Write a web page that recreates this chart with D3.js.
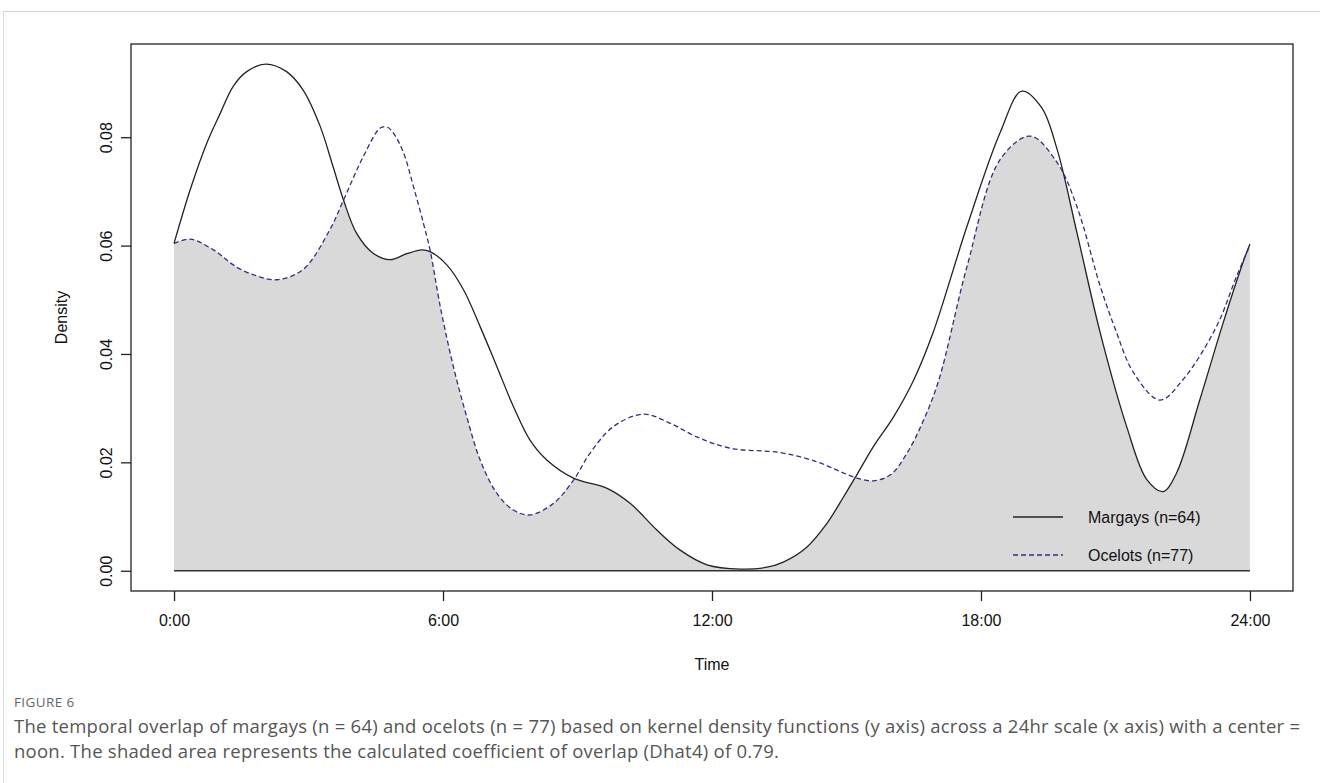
<!DOCTYPE html>
<html>
<head>
<meta charset="utf-8">
<script src="https://cdn.jsdelivr.net/npm/d3@7"></script>
<style>
  body { margin: 0; background: #fff; }
  svg { display: block; }
</style>
</head>
<body>
<svg id="chart" width="1320" height="783"></svg>
<script>
// kernel density readings, hour of day -> density
const margayHours = [0, 0.36, 0.73, 1.03, 1.32, 1.62, 2.05, 2.51, 2.88, 3.26, 3.55, 3.78, 4.07, 4.44, 4.82, 5.19, 5.53, 5.71, 6.09, 6.46, 6.83, 7.2, 7.57, 7.94, 8.32, 8.91, 9.66, 10.18, 10.77, 11.29, 11.89, 12.63, 13.2, 13.59, 14.12, 14.56, 14.94, 15.23, 15.6, 16.05, 16.5, 16.93, 17.69, 18.43, 18.91, 19.35, 19.7, 20.14, 20.66, 21.25, 21.7, 22.06, 22.36, 22.88, 23.4, 23.84, 24];
const margay = [0.0604, 0.0703, 0.0789, 0.0844, 0.0894, 0.0921, 0.0935, 0.0921, 0.0887, 0.082, 0.0745, 0.0684, 0.0623, 0.0586, 0.0574, 0.0585, 0.0592, 0.0589, 0.0564, 0.0518, 0.045, 0.0377, 0.0303, 0.0241, 0.0204, 0.0171, 0.0152, 0.0124, 0.0075, 0.0038, 0.0011, 0.0003, 0.0006, 0.0016, 0.0044, 0.0087, 0.0137, 0.0177, 0.0229, 0.0284, 0.0352, 0.0439, 0.0636, 0.0809, 0.0885, 0.0855, 0.0777, 0.0624, 0.0439, 0.0266, 0.0168, 0.0146, 0.018, 0.0315, 0.0457, 0.0568, 0.0603];

const ocelotHours = [0, 0.36, 0.88, 1.4, 1.85, 2.29, 2.88, 3.48, 3.78, 4.22, 4.6, 4.75, 4.89, 5.12, 5.34, 5.56, 5.71, 5.94, 6.23, 6.53, 6.83, 7.2, 7.57, 7.94, 8.46, 8.91, 9.28, 9.8, 10.47, 11.07, 11.66, 12.41, 13.52, 14.34, 14.86, 15.23, 15.6, 15.98, 16.35, 16.72, 17.06, 17.69, 18.43, 19.1, 19.7, 20.14, 20.66, 21.0, 21.4, 21.99, 22.5, 23.25, 23.7, 24];
const ocelot = [0.0604, 0.0612, 0.0592, 0.056, 0.0544, 0.0537, 0.0556, 0.063, 0.0684, 0.0764, 0.0817, 0.0819, 0.0808, 0.0771, 0.0709, 0.0642, 0.0592, 0.0487, 0.0377, 0.0284, 0.0204, 0.0143, 0.0112, 0.0103, 0.0124, 0.0167, 0.0217, 0.0266, 0.0289, 0.0272, 0.0247, 0.0226, 0.0218, 0.0201, 0.0183, 0.0171, 0.0166, 0.0177, 0.0217, 0.0278, 0.0352, 0.0562, 0.0759, 0.0802, 0.0753, 0.0672, 0.0525, 0.0445, 0.0366, 0.0315, 0.0352, 0.045, 0.0543, 0.0601];

const xTicks = [0, 6, 12, 18, 24];
const xTickLabels = ['0:00', '6:00', '12:00', '18:00', '24:00'];
const yTicks = [0, 0.02, 0.04, 0.06, 0.08];
const legendLabels = ['Margays (n=64)', 'Ocelots (n=77)'];

const captionTitle = 'FIGURE 6';
const captionLines = [
  'The temporal overlap of margays (n = 64) and ocelots (n = 77) based on kernel density functions (y axis) across a 24hr scale (x axis) with a center =',
  'noon. The shaded area represents the calculated coefficient of overlap (Dhat4) of 0.79.'
];

const svg = d3.select('#chart');
const box = {left: 131, right: 1293, top: 44, bottom: 591};
const font = '"Liberation Sans", Arial, sans-serif';

// R style: 4% padding on each side of the data range
const x = d3.scaleLinear().domain([-0.96, 24.96]).range([box.left, box.right]);
const y = d3.scaleLinear().domain([-0.00374, 0.0972]).range([box.bottom, box.top]);

const margayPts = margayHours.map((h, i) => [h, margay[i]]);
const ocelotPts = ocelotHours.map((h, i) => [h, ocelot[i]]);

const curve = d3.curveCatmullRom.alpha(0.5);
const line = d3.line().x(d => x(d[0])).y(d => y(d[1])).curve(curve);
const area = d3.area().x(d => x(d[0])).y0(y(0)).y1(d => y(d[1])).curve(curve);

// page frame lines
svg.append('line').attr('x1', 3).attr('x2', 1320).attr('y1', 11.5).attr('y2', 11.5)
  .attr('stroke', '#cfcfcf').attr('stroke-width', 1);
svg.append('line').attr('x1', 3.5).attr('x2', 3.5).attr('y1', 11).attr('y2', 783)
  .attr('stroke', '#dcdcdc').attr('stroke-width', 1);

// overlap = area under margay clipped to area under ocelot
svg.append('clipPath').attr('id', 'ocelot-clip')
  .append('path').attr('d', area(ocelotPts));
svg.append('path')
  .attr('d', area(margayPts))
  .attr('clip-path', 'url(#ocelot-clip)')
  .attr('fill', '#d9d9d9');

// zero line
svg.append('line')
  .attr('x1', x(0)).attr('x2', x(24))
  .attr('y1', y(0)).attr('y2', y(0))
  .attr('stroke', '#333').attr('stroke-width', 1.3);

svg.append('path').attr('d', line(margayPts))
  .attr('fill', 'none').attr('stroke', '#222').attr('stroke-width', 1.3);
svg.append('path').attr('d', line(ocelotPts))
  .attr('fill', 'none').attr('stroke', '#2f2f7e').attr('stroke-width', 1.3)
  .attr('stroke-dasharray', '5,3');

// legend
const legend = svg.append('g').attr('transform', 'translate(1013,517)');
legendLabels.forEach((lab, i) => {
  const g = legend.append('g').attr('transform', `translate(0,${i * 38})`);
  g.append('line').attr('x1', 0).attr('x2', 50).attr('y1', 0).attr('y2', 0)
    .attr('stroke', i === 0 ? '#222' : '#2f2f7e').attr('stroke-width', 1.3)
    .attr('stroke-dasharray', i === 0 ? null : '5,3');
  g.append('text').attr('x', 75).attr('y', 0).attr('dy', '0.35em')
    .attr('font-family', font).attr('font-size', 16).attr('fill', '#111')
    .text(lab);
});

// plot box
svg.append('rect')
  .attr('x', box.left).attr('y', box.top)
  .attr('width', box.right - box.left).attr('height', box.bottom - box.top)
  .attr('fill', 'none').attr('stroke', '#222').attr('stroke-width', 1.3);

// x axis
const xAxis = svg.append('g').attr('transform', `translate(0,${box.bottom})`)
  .call(d3.axisBottom(x).tickValues(xTicks).tickSize(10).tickPadding(14)
    .tickFormat((d, i) => xTickLabels[i]));
xAxis.select('.domain').remove();
xAxis.selectAll('line').attr('stroke', '#222').attr('stroke-width', 1.3);
xAxis.selectAll('text').attr('font-family', font).attr('font-size', 16).attr('fill', '#111');

// y axis with rotated labels
const yAxis = svg.append('g').attr('transform', `translate(${box.left},0)`)
  .call(d3.axisLeft(y).tickValues(yTicks).tickSize(10).tickFormat(d3.format('.2f')));
yAxis.select('.domain').remove();
yAxis.selectAll('line').attr('stroke', '#222').attr('stroke-width', 1.3);
yAxis.selectAll('text')
  .attr('font-family', font).attr('font-size', 16).attr('fill', '#111')
  .attr('x', null)
  .attr('text-anchor', 'middle')
  .attr('transform', 'translate(-25,0) rotate(-90)')
  .attr('dy', '0.35em');

svg.append('text')
  .attr('x', x(12)).attr('y', 664).attr('dy', '0.35em')
  .attr('text-anchor', 'middle')
  .attr('font-family', font).attr('font-size', 16).attr('fill', '#111')
  .text('Time');
svg.append('text')
  .attr('transform', `translate(61,${(box.top + box.bottom) / 2}) rotate(-90)`)
  .attr('dy', '0.35em').attr('text-anchor', 'middle')
  .attr('font-family', font).attr('font-size', 16).attr('fill', '#111')
  .text('Density');

// caption
svg.append('text')
  .attr('x', 14).attr('y', 707)
  .attr('font-family', '"Open Sans", sans-serif').attr('font-size', 13.5)
  .attr('letter-spacing', 0.4)
  .attr('fill', '#666')
  .text(captionTitle);
captionLines.forEach((t, i) => {
  svg.append('text')
    .attr('x', 14).attr('y', 733 + i * 25)
    .attr('font-family', '"Open Sans", sans-serif').attr('font-size', 18.5)
    .attr('letter-spacing', 0.25)
    .attr('fill', '#555')
    .text(t);
});
</script>
</body>
</html>
